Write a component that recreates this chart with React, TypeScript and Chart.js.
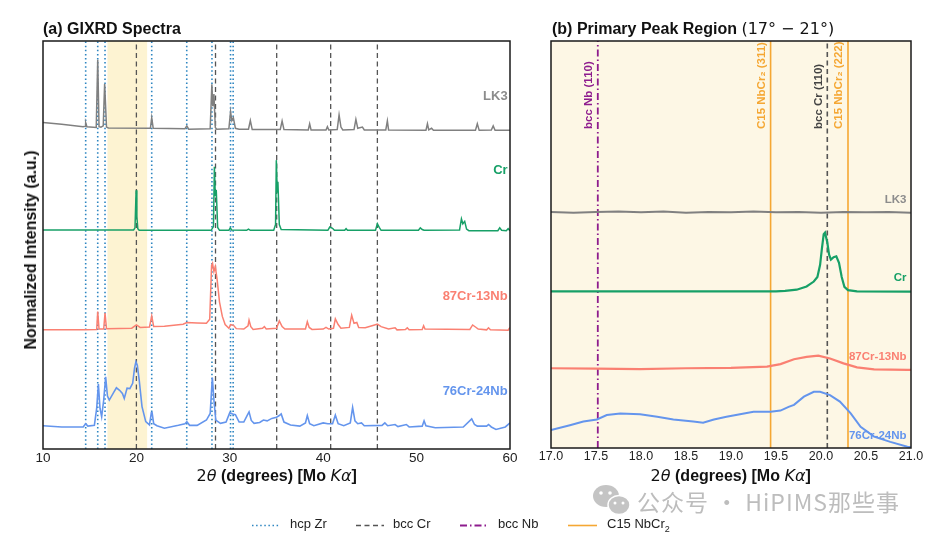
import React, { useEffect, useRef } from "react";
import { Chart, registerables } from "chart.js";

Chart.register(...registerables);

type Pt = [number, number];

// ---------- Panel (a): GIXRD spectra (2θ, normalized intensity incl. offset) ----------
const lk3Full: Pt[] = [
  [10, 80.0], [12, 79.6], [14.3, 79.0], [14.5, 79.1], [14.57, 80.0], [14.7, 79.0], [15.7, 78.8],
  [15.86, 95.4], [16.0, 79.0], [16.2, 78.9], [16.45, 79.2], [16.6, 89.5], [16.8, 78.9], [17, 78.7],
  [21.5, 78.6], [21.64, 81.2], [21.8, 78.6], [25.2, 78.5], [25.4, 79.2], [25.6, 78.4], [27.9, 78.5],
  [28.08, 89.4], [28.18, 84.0], [28.3, 87.0], [28.45, 78.8], [28.6, 78.4], [29.9, 78.5], [30.08, 82.7],
  [30.22, 80.5], [30.38, 81.2], [30.6, 78.6], [31.0, 78.4], [32.0, 78.4], [32.2, 80.5], [32.4, 78.3],
  [35.4, 78.3], [35.6, 80.4], [35.8, 78.3], [38.4, 78.2], [38.55, 79.7], [38.7, 78.2], [40.3, 78.2],
  [40.45, 79.0], [40.6, 78.2], [41.5, 78.3], [41.7, 81.9], [41.9, 78.9], [42.1, 78.2], [43.3, 78.3],
  [43.5, 80.8], [43.7, 78.6], [44.2, 78.9], [44.4, 78.2], [46.7, 78.2], [46.87, 80.4], [47.0, 78.2],
  [51.0, 78.1], [51.16, 79.7], [51.3, 78.2], [51.6, 78.6], [51.8, 78.1], [56.3, 78.1], [56.5, 79.7],
  [56.7, 78.1], [58.0, 78.2], [58.2, 79.2], [58.4, 78.1], [60, 78.1],
];
const crFull: Pt[] = [
  [10, 53.7], [19.7, 53.7], [19.85, 54.2], [19.97, 63.4], [20.05, 57.0], [20.15, 54.0], [20.3, 53.6],
  [28.0, 53.6], [28.25, 54.5], [28.35, 69.2], [28.45, 62.0], [28.55, 63.5], [28.7, 54.3], [28.9, 53.6],
  [29.9, 53.6], [30.05, 54.2], [30.2, 53.7], [31.8, 53.6], [32.0, 53.9], [32.2, 53.6], [34.7, 53.6],
  [34.9, 55.0], [34.98, 70.8], [35.08, 63.0], [35.15, 65.5], [35.3, 55.0], [35.5, 53.8], [40.5, 53.6],
  [40.7, 54.4], [41.0, 54.1], [41.2, 53.6], [42.3, 53.6], [42.45, 54.0], [42.6, 53.6], [45.6, 53.6],
  [45.8, 55.2], [46.0, 54.3], [46.2, 53.6], [50.2, 53.6], [50.4, 54.2], [50.6, 53.8], [50.8, 53.6],
  [54.6, 53.7], [54.8, 56.4], [54.95, 55.2], [55.15, 55.8], [55.35, 53.9], [55.6, 53.5], [58.7, 53.5],
  [58.9, 54.2], [59.1, 53.6], [59.6, 53.5], [59.8, 54.0], [60, 53.5],
];
const cr87Full: Pt[] = [
  [10, 29.2], [14.5, 29.2], [15.75, 29.3], [15.86, 33.7], [16.0, 29.4], [16.5, 29.4], [16.64, 33.3],
  [16.8, 29.5], [19.5, 29.6], [20.0, 30.4], [20.4, 29.8], [21.4, 29.9], [21.64, 32.6], [21.85, 30.0],
  [23.0, 30.1], [25.0, 30.6], [25.4, 31.0], [26.5, 30.9], [27.5, 30.8], [27.85, 31.8], [28.05, 45.0],
  [28.15, 45.5], [28.3, 43.5], [28.45, 44.7], [28.65, 41.4], [28.9, 36.0], [29.2, 32.5], [29.5, 30.5],
  [29.9, 29.6], [30.1, 30.5], [30.4, 30.3], [30.7, 29.5], [31.5, 29.4], [31.95, 30.2], [32.06, 31.6],
  [32.25, 30.0], [32.5, 29.3], [33.5, 29.6], [33.7, 30.0], [33.9, 29.4], [35.0, 29.6], [35.3, 31.4],
  [35.6, 30.0], [35.9, 29.4], [38.1, 29.4], [38.3, 31.2], [38.5, 29.8], [38.8, 29.3], [40.0, 29.4],
  [40.3, 29.8], [40.6, 29.4], [41.1, 29.6], [41.3, 31.9], [41.6, 30.5], [41.9, 29.6], [42.8, 29.8],
  [43.05, 32.8], [43.3, 30.8], [43.6, 31.0], [43.8, 29.8], [44.5, 29.7], [45.5, 30.4], [45.8, 30.6],
  [46.2, 30.0], [47.0, 29.4], [47.7, 29.7], [47.9, 29.2], [48.8, 29.3], [49.0, 29.7], [49.2, 29.2],
  [50.6, 29.3], [50.75, 30.2], [50.9, 29.4], [55.7, 29.3], [56.0, 30.4], [56.3, 29.9], [56.6, 29.4],
  [57.5, 29.2], [57.7, 29.7], [57.9, 29.2], [59.8, 29.1], [60, 29.8],
];
const cr76Full: Pt[] = [
  [10, 5.7], [12, 5.4], [14.3, 5.4], [14.57, 6.2], [14.8, 5.6], [15.5, 5.8], [15.75, 10.0], [15.93, 15.9],
  [16.1, 10.0], [16.28, 7.9], [16.5, 12.0], [16.71, 17.7], [16.9, 13.0], [17.1, 12.0], [17.6, 14.0],
  [17.86, 15.0], [18.2, 14.4], [18.5, 13.6], [18.7, 12.4], [19.0, 14.9], [19.3, 14.8], [19.6, 16.1],
  [19.8, 19.8], [19.95, 21.4], [20.1, 20.5], [20.3, 16.9], [20.6, 10.4], [21.0, 6.7], [21.4, 5.9],
  [21.6, 8.9], [21.67, 9.1], [21.85, 6.2], [22.2, 5.7], [23.0, 5.1], [24.5, 5.8], [25.2, 6.2],
  [25.4, 6.7], [25.7, 5.8], [26.5, 5.8], [27.5, 7.1], [27.9, 8.7], [28.13, 17.5], [28.3, 12.0],
  [28.5, 7.1], [29.0, 6.3], [29.6, 6.6], [30.0, 8.9], [30.3, 8.6], [30.6, 8.4], [31.0, 6.6],
  [31.5, 6.6], [31.85, 8.2], [32.06, 9.1], [32.3, 7.0], [32.6, 6.3], [33.2, 6.5], [33.6, 7.1],
  [34.0, 6.9], [34.5, 7.5], [35.0, 7.8], [35.3, 8.2], [35.5, 8.6], [35.8, 6.6], [36.5, 5.9],
  [37.5, 5.6], [38.1, 6.4], [38.3, 8.2], [38.55, 6.2], [39.0, 5.7], [40.0, 6.4], [40.5, 6.2],
  [41.0, 6.2], [41.3, 8.3], [41.6, 6.2], [42.2, 5.7], [42.9, 6.4], [43.15, 10.2], [43.4, 6.9],
  [43.7, 6.2], [44.1, 6.4], [44.4, 5.7], [46.3, 5.8], [46.6, 6.4], [46.9, 5.7], [47.7, 6.0],
  [48.0, 5.5], [48.9, 6.0], [49.2, 5.4], [50.6, 5.6], [50.8, 6.9], [51.0, 5.7], [52.0, 5.2],
  [55.0, 5.4], [55.9, 7.4], [56.2, 6.0], [56.5, 5.6], [57.5, 5.6], [57.7, 6.0], [58.0, 5.4],
  [58.5, 4.8], [59.5, 5.4], [60, 6.4],
];

// Reference peak positions (2θ)
const hcpZrLines = [14.57, 15.86, 16.64, 21.64, 25.39, 28.09, 30.08, 30.36];
const bccCrLines = [20.0, 28.47, 35.02, 40.8, 45.8];
const primaryBand: Pt = [16.9, 21.15];
const leftTickValues = [10, 20, 30, 40, 50, 60];

// ---------- Panel (b): primary peak region ----------
const lk3Zoom: Pt[] = [
  [17, 58.0], [17.25, 57.8], [17.5, 58.0], [17.75, 58.1], [18.0, 57.9], [18.25, 58.1], [18.5, 57.8],
  [18.75, 58.0], [19.0, 57.9], [19.25, 58.1], [19.5, 57.9], [19.75, 58.0], [20.0, 57.8], [20.25, 58.0],
  [20.5, 57.9], [20.75, 58.0], [21.0, 57.8],
];
const crZoom: Pt[] = [
  [17, 38.5], [19.5, 38.5], [19.6, 38.6], [19.73, 38.9], [19.84, 39.7], [19.92, 40.9], [19.96, 42.0],
  [19.99, 45.0], [20.01, 49.0], [20.03, 52.5], [20.045, 52.9], [20.07, 50.5], [20.09, 47.5],
  [20.11, 46.3], [20.14, 46.9], [20.17, 47.1], [20.2, 45.5], [20.23, 42.0], [20.26, 39.6],
  [20.3, 38.8], [20.4, 38.5], [21, 38.4],
];
const cr87Zoom: Pt[] = [
  [17.0, 19.6], [17.5, 19.5], [17.99, 19.4], [18.5, 19.6], [19.0, 19.7], [19.4, 20.0], [19.55, 20.6],
  [19.7, 21.8], [19.84, 22.4], [19.97, 22.7], [20.1, 22.0], [20.25, 20.8], [20.4, 19.8], [20.59, 19.3],
  [20.96, 19.2], [21.0, 19.2],
];
const cr76Zoom: Pt[] = [
  [17.0, 4.4], [17.21, 5.6], [17.36, 6.5], [17.51, 7.0], [17.62, 8.1], [17.77, 8.5], [17.99, 8.3],
  [18.18, 7.7], [18.36, 7.0], [18.58, 6.5], [18.69, 6.2], [18.81, 7.0], [18.95, 7.7], [19.1, 8.3],
  [19.25, 8.9], [19.44, 8.9], [19.55, 9.2], [19.64, 10.1], [19.7, 10.6], [19.81, 12.6], [19.92, 13.8],
  [19.99, 13.8], [20.1, 13.0], [20.21, 11.4], [20.33, 8.5], [20.44, 5.2], [20.59, 2.8], [20.77, 1.5],
  [20.96, 0.3], [21.0, 0.2],
];
const bccNbZoomLines = [17.52];
const c15ZoomLines = [19.44, 20.3];
const bccCrZoomLines = [20.07];
const rightTickValues = [17.0, 17.5, 18.0, 18.5, 19.0, 19.5, 20.0, 20.5, 21.0];

// ---------- styles ----------
const C_LK3 = "#808080";
const C_CR = "#17a067";
const C_87 = "#fa8072";
const C_76 = "#6495ed";
const C_HCP = "#2e86c1";
const C_BCCCR = "#555555";
const C_NB = "#8e1c8e";
const C_C15 = "#f5a733";
const FONT = '"Liberation Sans", Arial, Helvetica, sans-serif';

const DASH_HCP = [1.5, 2.6];
const DASH_CR = [5, 3.5];
const DASH_NB = [7, 3, 1.5, 3];

const series = (pts: Pt[], color: string, width: number) => ({
  data: pts.map(([x, y]) => ({ x, y })),
  borderColor: color,
  borderWidth: width,
  pointRadius: 0,
  tension: 0,
  fill: false,
});
const refLine = (v: number, color: string, dash: number[], width: number) => ({
  data: [
    { x: v, y: 0 },
    { x: v, y: 100 },
  ],
  borderColor: color,
  borderDash: dash,
  borderWidth: width,
  pointRadius: 0,
  fill: false,
});

const framePlugin = {
  id: "frame",
  afterDraw(chart: any) {
    const { ctx, chartArea: a } = chart;
    ctx.save();
    ctx.strokeStyle = "#1a1a1a";
    ctx.lineWidth = 1.5;
    ctx.strokeRect(a.left, a.top, a.right - a.left, a.bottom - a.top);
    ctx.restore();
  },
};

const bandPlugin = (range: Pt, color: string) => ({
  id: "band",
  beforeDatasetsDraw(chart: any) {
    const { ctx, chartArea: a, scales } = chart;
    const x0 = scales.x.getPixelForValue(range[0]);
    const x1 = scales.x.getPixelForValue(range[1]);
    ctx.save();
    ctx.fillStyle = color;
    ctx.fillRect(x0, a.top, x1 - x0, a.bottom - a.top);
    ctx.restore();
  },
});

type Lbl = { text: string; color: string; x: number; y: number };
const labelPlugin = (labels: Lbl[], font: string) => ({
  id: "seriesLabels",
  afterDatasetsDraw(chart: any) {
    const { ctx, scales } = chart;
    ctx.save();
    ctx.font = font;
    ctx.textAlign = "right";
    ctx.textBaseline = "middle";
    labels.forEach((l) => {
      ctx.fillStyle = l.color;
      ctx.fillText(l.text, scales.x.getPixelForValue(l.x), scales.y.getPixelForValue(l.y));
    });
    ctx.restore();
  },
});

type VLbl = { text: string; color: string; x: number };
const vLabelPlugin = (labels: VLbl[], font: string, startOffset: number) => ({
  id: "vLabels",
  afterDatasetsDraw(chart: any) {
    const { ctx, chartArea: a, scales } = chart;
    ctx.save();
    ctx.beginPath();
    ctx.rect(a.left, a.top, a.right - a.left, a.bottom - a.top);
    ctx.clip();
    ctx.font = font;
    labels.forEach((l) => {
      ctx.save();
      ctx.translate(scales.x.getPixelForValue(l.x) - 3, a.top + startOffset);
      ctx.rotate(-Math.PI / 2);
      ctx.textAlign = "left";
      ctx.textBaseline = "bottom";
      ctx.fillStyle = l.color;
      ctx.fillText(l.text, 0, 0);
      ctx.restore();
    });
    ctx.restore();
  },
});

const leftLabels: Lbl[] = [
  { text: "LK3", color: "#8c8c8c", x: 59.75, y: 86.3 },
  { text: "Cr", color: C_CR, x: 59.75, y: 68.4 },
  { text: "87Cr-13Nb", color: C_87, x: 59.75, y: 37.3 },
  { text: "76Cr-24Nb", color: C_76, x: 59.75, y: 14.2 },
];
const rightLabels: Lbl[] = [
  { text: "LK3", color: "#8c8c8c", x: 20.95, y: 60.9 },
  { text: "Cr", color: C_CR, x: 20.95, y: 41.7 },
  { text: "87Cr-13Nb", color: C_87, x: 20.95, y: 22.3 },
  { text: "76Cr-24Nb", color: C_76, x: 20.95, y: 2.9 },
];
const rightVLabels: VLbl[] = [
  { text: "bcc Nb (110)", color: C_NB, x: bccNbZoomLines[0] },
  { text: "C15 NbCr\u2082 (311)", color: C_C15, x: c15ZoomLines[0] },
  { text: "bcc Cr (110)", color: "#444444", x: bccCrZoomLines[0] },
  { text: "C15 NbCr\u2082 (222)", color: C_C15, x: c15ZoomLines[1] },
];

const xAxis = (min: number, max: number, tickVals: number[], fmt: (v: number) => string, size: number) => ({
  type: "linear",
  min,
  max,
  afterBuildTicks: (s: any) => {
    s.ticks = tickVals.map((v) => ({ value: v }));
  },
  afterFit: (s: any) => {
    s.height = 24;
  },
  ticks: {
    color: "#222",
    font: { family: FONT, size },
    padding: 1.5,
    maxRotation: 0,
    autoSkip: false,
    callback: (v: any) => fmt(Number(v)),
  },
  grid: { display: false, drawTicks: false, tickLength: 0 },
  border: { display: false },
});

const leftConfig = (): any => ({
  type: "line",
  data: {
    datasets: [
      series(lk3Full, C_LK3, 1.5),
      series(crFull, C_CR, 1.5),
      series(cr87Full, C_87, 1.5),
      series(cr76Full, C_76, 1.6),
      ...bccCrLines.map((v) => refLine(v, C_BCCCR, DASH_CR, 1.3)),
      ...hcpZrLines.map((v) => refLine(v, C_HCP, DASH_HCP, 1.6)),
    ],
  },
  options: {
    animation: false,
    responsive: false,
    events: [],
    layout: { padding: { left: 43, right: 422, top: 41, bottom: 67 } },
    plugins: { legend: { display: false }, tooltip: { enabled: false } },
    scales: {
      x: xAxis(10, 60, leftTickValues, (v) => String(v), 13.5),
      y: { display: false, min: 0, max: 100 },
    },
  },
  plugins: [bandPlugin(primaryBand, "#fdf3d2"), labelPlugin(leftLabels, `bold 13px ${FONT}`), framePlugin],
});

const rightConfig = (): any => ({
  type: "line",
  data: {
    datasets: [
      series(lk3Zoom, C_LK3, 2),
      series(crZoom, C_CR, 2.2),
      series(cr87Zoom, C_87, 2.2),
      series(cr76Zoom, C_76, 2),
      ...bccCrZoomLines.map((v) => refLine(v, C_BCCCR, DASH_CR, 1.6)),
      ...c15ZoomLines.map((v) => refLine(v, C_C15, [], 1.6)),
      ...bccNbZoomLines.map((v) => refLine(v, C_NB, DASH_NB, 1.8)),
    ],
  },
  options: {
    animation: false,
    responsive: false,
    events: [],
    layout: { padding: { left: 551, right: 21, top: 41, bottom: 68 } },
    plugins: { legend: { display: false }, tooltip: { enabled: false } },
    scales: {
      x: xAxis(17, 21, rightTickValues, (v) => v.toFixed(1), 12.5),
      y: { display: false, min: 0, max: 100 },
    },
  },
  plugins: [
    bandPlugin([17, 21], "#fdf7e5"),
    labelPlugin(rightLabels, `bold 11.5px ${FONT}`),
    vLabelPlugin(rightVLabels, `bold 11.5px ${FONT}`, 88),
    framePlugin,
  ],
});

function ChartLayer({ make }: { make: () => any }) {
  const ref = useRef<HTMLCanvasElement | null>(null);
  useEffect(() => {
    if (!ref.current) return;
    const chart = new Chart(ref.current, make());
    return () => chart.destroy();
  }, [make]);
  return (
    <canvas
      ref={ref}
      width={932}
      height={540}
      style={{ position: "absolute", left: 0, top: 0, width: 932, height: 540 }}
    />
  );
}

const legendItems = [
  { label: "hcp Zr", color: C_HCP, dash: "1.5 2.6", x1: 252, x2: 280, tx: 290 },
  { label: "bcc Cr", color: C_BCCCR, dash: "5 3.5", x1: 356, x2: 384, tx: 393 },
  { label: "bcc Nb", color: C_NB, dash: "7 3 1.5 3", x1: 460, x2: 489, tx: 498 },
  { label: "C15 NbCr", sub: "2", color: C_C15, dash: "", x1: 568, x2: 597, tx: 607 },
];

export default function App() {
  return (
    <div
      style={{
        position: "fixed",
        left: 0,
        top: 0,
        width: 932,
        height: 540,
        background: "#fff",
        overflow: "hidden",
        fontFamily: FONT,
        color: "#111",
      }}
    >
      <ChartLayer make={leftConfig} />
      <ChartLayer make={rightConfig} />

      <div style={{ position: "absolute", left: 43, top: 20, fontSize: 16, lineHeight: "18px", fontWeight: "bold", whiteSpace: "nowrap" }}>
        (a) GIXRD Spectra
      </div>
      <div style={{ position: "absolute", left: 552, top: 20, fontSize: 16, lineHeight: "18px", fontWeight: "bold", whiteSpace: "nowrap" }}>
        (b) Primary Peak Region{" "}
        <span style={{ fontFamily: '"DejaVu Sans", sans-serif', fontWeight: "normal" }}>(17° − 21°)</span>
      </div>

      <div
        style={{
          position: "absolute",
          left: 31,
          top: 250,
          transform: "translate(-50%, -50%) rotate(-90deg)",
          fontSize: 16,
          lineHeight: "18px",
          fontWeight: "bold",
          whiteSpace: "nowrap",
        }}
      >
        Normalized Intensity (a.u.)
      </div>

      {[276.7, 730.7].map((cx, i) => (
        <div
          key={i}
          style={{
            position: "absolute",
            left: cx,
            top: 467,
            transform: "translateX(-50%)",
            fontSize: 16,
            lineHeight: "18px",
            fontWeight: "bold",
            whiteSpace: "nowrap",
          }}
        >
          <span style={{ fontFamily: '"DejaVu Sans", sans-serif', fontWeight: "normal" }}>
            2<i>θ</i>
          </span>{" "}
          (degrees) [Mo{" "}
          <i style={{ fontFamily: '"DejaVu Sans", sans-serif', fontWeight: "normal" }}>Kα</i>]
        </div>
      ))}

      <svg width={932} height={540} style={{ position: "absolute", left: 0, top: 0, pointerEvents: "none" }}>
        {legendItems.map((it, i) => (
          <line
            key={i}
            x1={it.x1}
            x2={it.x2}
            y1={525.5}
            y2={525.5}
            stroke={it.color}
            strokeWidth={i === 2 ? 2 : 1.6}
            strokeDasharray={it.dash || undefined}
          />
        ))}
        {/* WeChat-style watermark icon */}
        <ellipse cx={606} cy={496} rx={13} ry={11} fill="#c4c4c4" />
        <ellipse cx={619} cy={505} rx={11} ry={9.5} fill="#c4c4c4" stroke="#fff" strokeWidth={1.5} />
        <circle cx={601} cy={493} r={1.8} fill="#fff" />
        <circle cx={610} cy={493} r={1.8} fill="#fff" />
        <circle cx={615} cy={503} r={1.5} fill="#fff" />
        <circle cx={623} cy={503} r={1.5} fill="#fff" />
      </svg>
      {legendItems.map((it, i) => (
        <div
          key={i}
          style={{ position: "absolute", left: it.tx, top: 516, fontSize: 13, lineHeight: "15px", whiteSpace: "nowrap", color: "#222" }}
        >
          {it.label}
          {it.sub ? <sub style={{ fontSize: 9, lineHeight: 0 }}>{it.sub}</sub> : null}
        </div>
      ))}

      <div
        style={{
          position: "absolute",
          left: 637,
          top: 487,
          fontFamily: '"Noto Sans CJK SC", "Noto Sans", sans-serif',
          fontSize: 23,
          lineHeight: "28px",
          color: "#bdbdbd",
          whiteSpace: "nowrap",
          letterSpacing: 1,
        }}
      >
        公众号 · HiPIMS那些事
      </div>
    </div>
  );
}
